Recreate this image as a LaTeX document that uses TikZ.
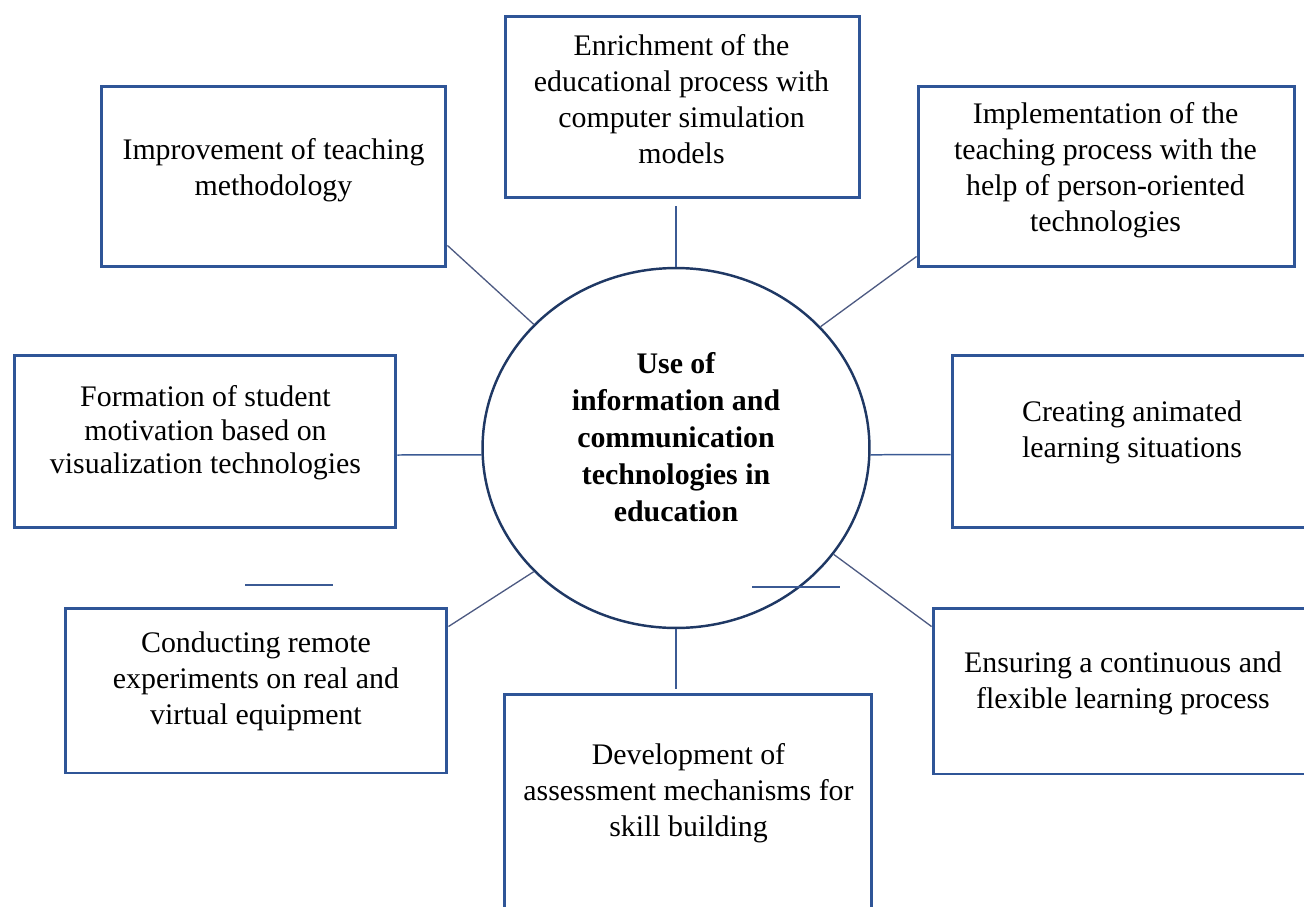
\documentclass[tikz,border=0pt]{standalone}
\usepackage{fontspec}
\setmainfont{Liberation Serif}
\usetikzlibrary{shapes.geometric}
\definecolor{boxblue}{HTML}{2F5597}
\definecolor{ringblue}{HTML}{1F3864}
\definecolor{linkblue}{HTML}{3B5A94}
\definecolor{linkgray}{HTML}{4D5A82}
\begin{document}
\begin{tikzpicture}[x=0.02cm, y=-0.02cm, every node/.style={inner sep=0pt},
        box/.style={draw=boxblue, line width=1.7pt},
        hub/.style={ellipse, draw=ringblue, line width=1.4pt, minimum width=7.74cm, minimum height=7.2cm},
        txt/.style={align=center, font=\fontsize{17}{20.5}\selectfont},
        link/.style={color=linkblue, line width=0.85pt},
        slant/.style={color=linkgray, line width=0.75pt}]
    \useasboundingbox (0,0) rectangle (1304,906);
    \clip (0,0) rectangle (1304,906);

    \node[hub] (hub) at (676, 448) {};
    \node[txt, font=\fontsize{17}{21}\selectfont\bfseries] (hub-text) at (676, 437) {Use of\\ information and\\ communication\\ technologies in\\ education};

    \node[box, minimum width=7.10cm, minimum height=3.64cm] (tc) at (682.5, 107) {};
    \node[txt] (tc-text) at (681.5, 99) {Enrichment of the\\ educational process with\\ computer simulation\\ models};

    \node[box, minimum width=6.90cm, minimum height=3.62cm] (tl) at (273.5, 176.5) {};
    \node[txt] (tl-text) at (273.5, 170) {Improvement of teaching\\ methodology};

    \node[box, minimum width=7.54cm, minimum height=3.62cm] (tr) at (1106.5, 176.5) {};
    \node[txt] (tr-text) at (1105.5, 170) {Implementation of the\\ teaching process with the\\ help of person-oriented\\ technologies};

    \node[box, minimum width=7.64cm, minimum height=3.46cm] (lm) at (205, 441.5) {};
    \node[txt, font=\fontsize{17}{19.1}\selectfont] (lm-text) at (205.5, 433) {Formation of student\\ motivation based on\\ visualization technologies};

    \node[box, minimum width=7.24cm, minimum height=3.46cm] (rm) at (1133, 441.5) {};
    \node[txt] (rm-text) at (1132, 432.5) {Creating animated\\ learning situations};

    \node[box, minimum width=7.64cm, minimum height=3.30cm] (bl) at (256, 690.5) {};
    \node[txt] (bl-text) at (256, 681.5) {Conducting remote\\ experiments on real and\\ virtual equipment};

    \node[box, minimum width=7.62cm, minimum height=3.32cm] (br) at (1123.5, 691) {};
    \node[txt] (br-text) at (1123, 683) {Ensuring a continuous and\\ flexible learning process};

    \node[box, minimum width=7.36cm, minimum height=4.72cm] (bc) at (688, 812) {};
    \node[txt] (bc-text) at (688.5, 793.5) {Development of\\ assessment mechanisms for\\ skill building};

    % spokes
    \draw[link] (hub.north) -- ++(0, -61);
    \draw[link] (hub.south) -- ++(0, 60);
    \draw[link] (hub.182) edge ([shift={(0,13.5)}]lm.east);
    \draw[link] (hub.358) edge ([shift={(0,13)}]rm.west);
    \draw[slant] (hub.139) edge ([shift={(0,-23)}]tl.south east);
    \draw[slant] (hub.40) edge ([shift={(0,-12)}]tr.south west);
    \draw[slant] (hub.221) edge ([shift={(0,20)}]bl.north east);
    \draw[slant] (hub.326) edge ([shift={(0,20)}]br.north west);

    % loose strokes
    \draw[link] (245, 585) -- (333, 585);
    \draw[link] (752, 587) -- (840, 587);
\end{tikzpicture}
\end{document}
